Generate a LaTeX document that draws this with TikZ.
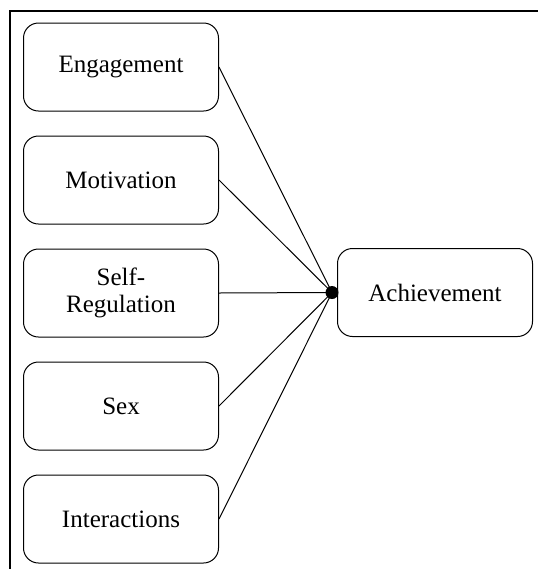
\documentclass[tikz,border=0pt]{standalone}
\usepackage{fontspec}
\setmainfont{Liberation Serif}
\usetikzlibrary{positioning}

\tikzset{
  factor/.style={draw, line width=0.5pt, rounded corners=7.5pt,
    minimum width=97.5pt, minimum height=44pt, inner sep=2pt,
    align=center, font=\rmfamily\fontsize{12.5}{13.5}\selectfont},
  link/.style={line width=0.5pt}
}

\begin{document}
\begin{tikzpicture}[x=0.5pt,y=-0.5pt]
\useasboundingbox (0,0) rectangle (538,569);

% Drawing frame
\draw [line width=1pt] (10,569) -- (10,10.5) -- (538,10.5);

% Marking predictor boxes
\node [factor] (eng) at (121,67) {Engagement};
\node [factor, below=12pt of eng] (mot) {Motivation};
\node [factor, below=12pt of mot] (reg) {Self-\\Regulation};
\node [factor, below=12pt of reg] (sex) {Sex};
\node [factor, below=12pt of sex] (int) {Interactions};

% Marking outcome box
\node [factor] (ach) at (435,292.5) {Achievement};

% Marking point hub by filled circle
\coordinate (hub) at ([xshift=-2.5pt]ach.west);
\fill (hub) circle (3.25pt);

% Drawing links
\foreach \p in {eng,mot,reg,sex,int}
  \draw [link] (\p.east) -- (hub);
\end{tikzpicture}
\end{document}
